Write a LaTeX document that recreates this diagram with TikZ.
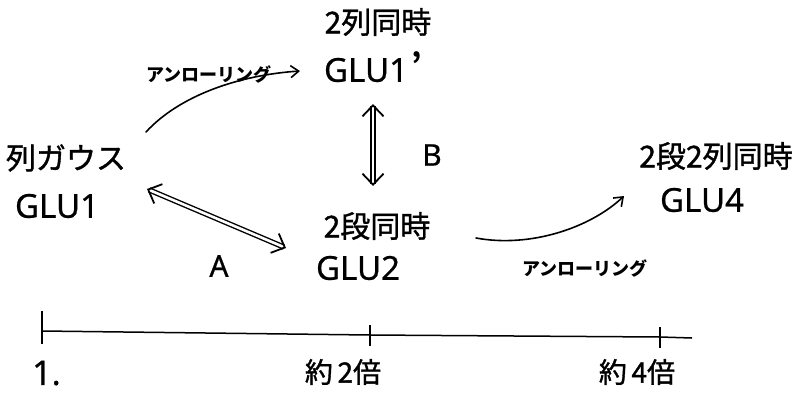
\documentclass[tikz,border=0pt]{standalone}
\usepackage{fontspec}
\setmainfont{Noto Sans}[UprightFeatures={FakeBold=0.6}]
\newfontfamily\jp{Noto Sans CJK JP}[UprightFeatures={FakeBold=1.2}]
\newfontfamily\jpb{Noto Sans CJK JP}
\usetikzlibrary{arrows.meta}
\tikzset{
  lbl/.style={inner sep=0pt, font=\jp\fontsize{30}{32}\selectfont},
  code/.style={inner sep=0pt, font=\fontsize{33}{35}\selectfont},
  small/.style={inner sep=0pt, font=\jpb\bfseries\fontsize{18}{20}\selectfont},
  axlbl/.style={inner sep=0pt, font=\jp\fontsize{28}{30}\selectfont},
  thin arrow/.style={line width=1.6pt, -{Straight Barb[length=8pt,width=12pt,line width=1.6pt]}, line cap=round},
  dbl arrow/.style={double, double distance=2.6pt, line width=1.4pt,
    {Straight Barb[length=11pt,width=21pt,line width=1.8pt]}-{Straight Barb[length=11pt,width=21pt,line width=1.8pt]}},
  axis/.style={line width=1.5pt},
}
\begin{document}
\begin{tikzpicture}[x=1pt,y=-1pt]
\useasboundingbox (0,0) rectangle (810,394);
% nodes
\node[lbl] (t1) at (378,22) {2列同時};
\node[code] (g1p) at (366,70) {GLU1};
\node[inner sep=0pt, font=\jpb\bfseries\fontsize{30}{30}\selectfont] (prime) at (417,64) {’};
\node[lbl] (t0) at (66,158) {列ガウス};
\node[code] (g1) at (57,206) {GLU1};
\node[lbl] (t2) at (377,226) {2段同時};
\node[code] (g2) at (358,268) {GLU2};
\node[lbl] (t4) at (716,156) {2段2列同時};
\node[code] (g4) at (702,200) {GLU4};
\node[small] (u1) at (209,74) {アンローリング};
\node[small] (u2) at (585,268) {アンローリング};
\node[inner sep=0pt, font=\fontsize{30}{32}\selectfont] (A) at (219,266) {A};
\node[inner sep=0pt, font=\fontsize{30}{32}\selectfont] (B) at (432,155) {B};
% connectors
\coordinate (a1s) at (146,132);
\coordinate (a1e) at (300,71);
\draw[thin arrow] (a1s) .. controls (180,95) and (240,75) .. (a1e);
\coordinate (a2s) at (476,238);
\coordinate (a2e) at (624,196);
\draw[thin arrow] (a2s) .. controls (530,248) and (590,228) .. (a2e);
\coordinate (dAs) at (147,189);
\coordinate (dAe) at (286,248);
\draw[dbl arrow] (dAs) -- (dAe);
\coordinate (dBs) at (373,104);
\coordinate (dBe) at (373,186);
\draw[dbl arrow] (dBs) -- (dBe);
% axis
\coordinate (x0) at (42,331);
\coordinate (x2) at (370,335);
\coordinate (x4) at (660,337);
\coordinate (xe) at (692,338);
\draw[axis] (x0) -- (x2) -- (x4) -- (xe);
\draw[axis] (42,311) -- (42,344);
\draw[line width=1.2pt] (370,325) -- (370,346);
\draw[line width=1.2pt] (660,327) -- (660,348);
\node[inner sep=0pt, font=\fontsize{34}{36}\selectfont, anchor=west] (one) at (32,373) {1.};
\node[axlbl] (l2) at (343,372) {約\,2倍};
\node[axlbl] (l4) at (637,372) {約\,4倍};
\end{tikzpicture}
\end{document}
